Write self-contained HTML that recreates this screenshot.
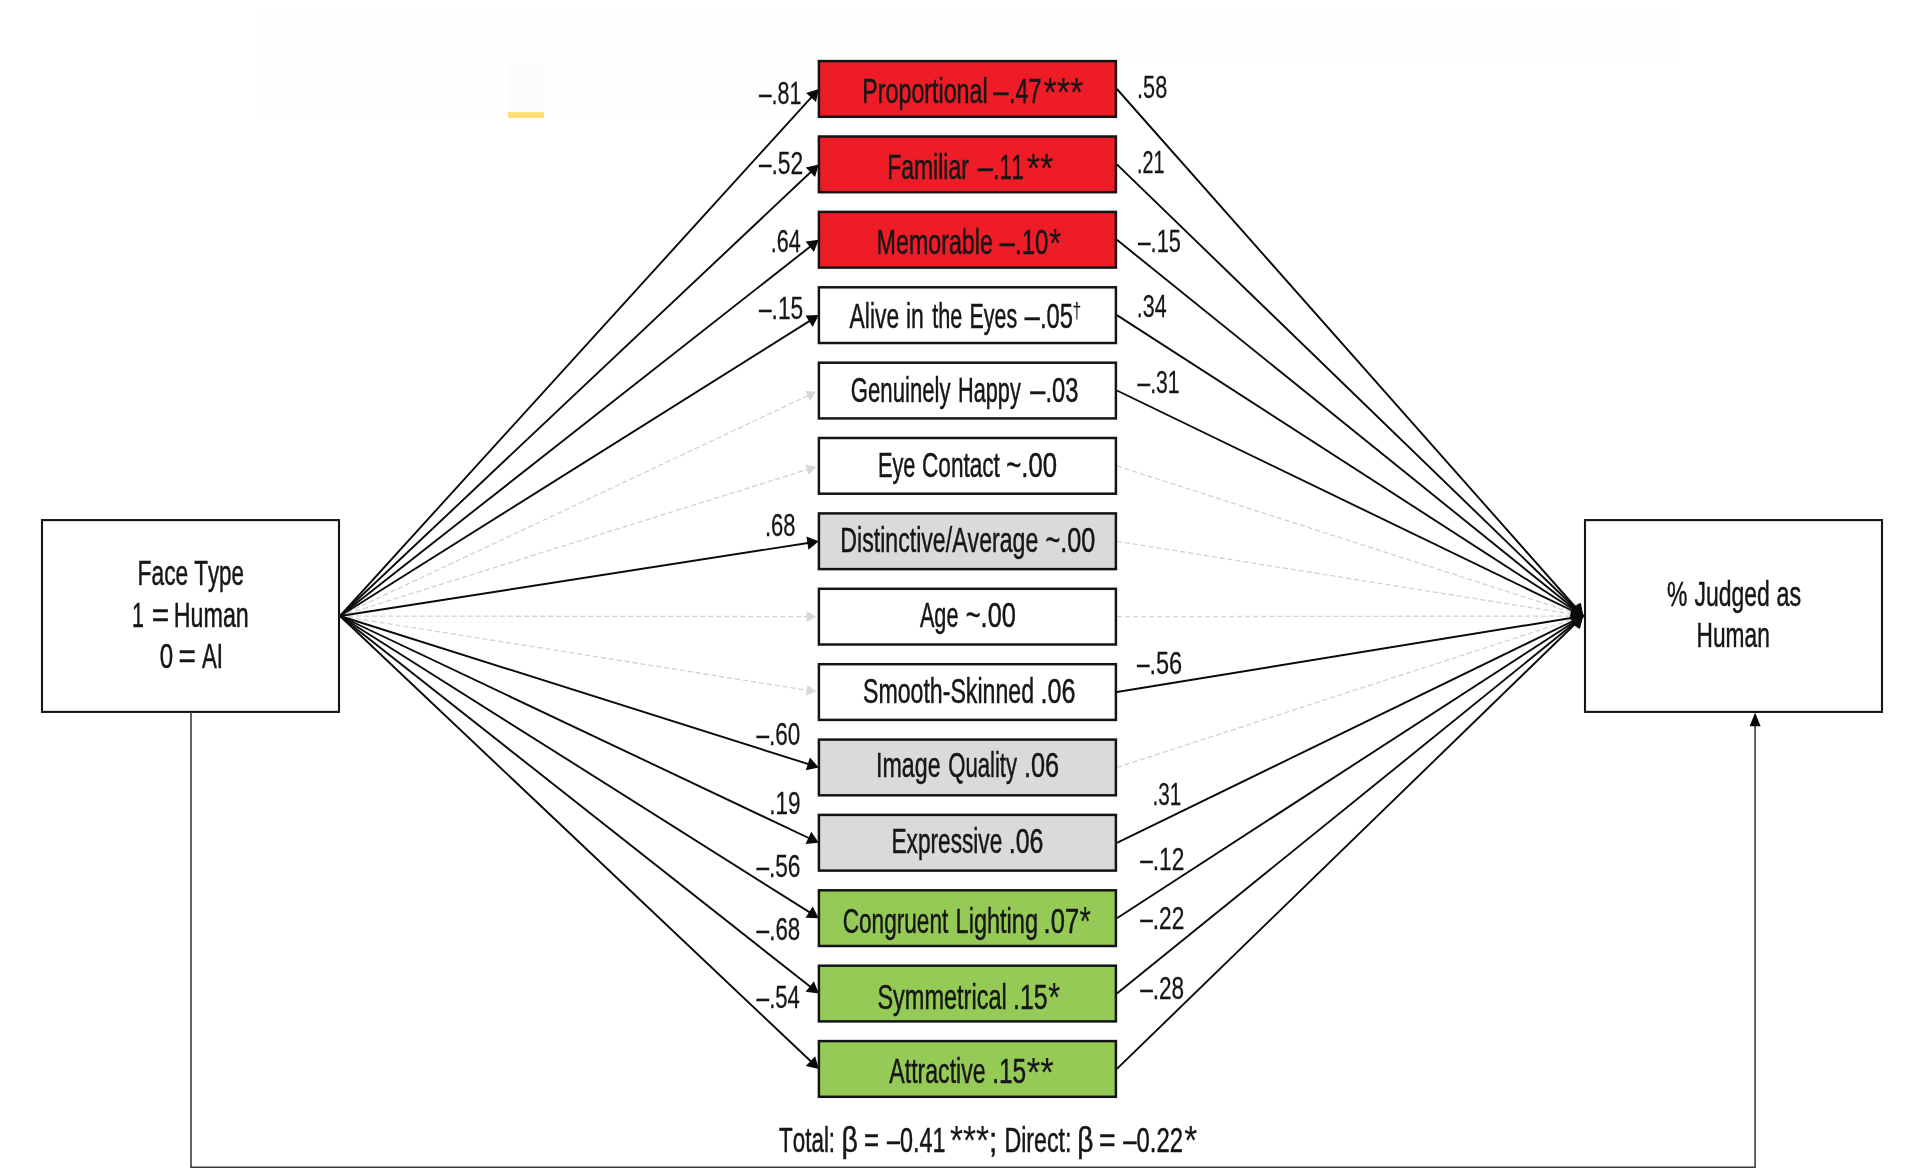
<!DOCTYPE html>
<html lang="en"><head><meta charset="utf-8"><title>Mediation model</title>
<style>
html,body{margin:0;padding:0;background:#fff;}
body{width:1918px;height:1169px;overflow:hidden;}
svg{display:block;}
text{font-family:"Liberation Sans",Arial,Helvetica,sans-serif;font-size:34.6px;fill:#161616;font-kerning:none;stroke:#161616;stroke-width:0.5px;}
text.c{font-size:32px;stroke-width:0.3px;}
.sol{stroke:#0a0a0a;stroke-width:1.9;fill:none;}
.dash{stroke:#d2d2d2;stroke-width:1.3;stroke-dasharray:5.2 2.8;fill:none;}
.box{stroke:#141414;stroke-width:2.5;}
.thin{stroke:#3c3c3c;stroke-width:1.6;fill:none;}
</style></head><body>
<svg width="1918" height="1169" viewBox="0 0 1918 1169">
<rect x="0" y="0" width="1918" height="1169" fill="#ffffff"/>
<rect x="260" y="8" width="1417" height="54" fill="#fefefe"/>
<rect x="260" y="62" width="700" height="56" fill="#fefefe"/>
<rect x="508" y="63" width="36" height="50" fill="#fcfcfc"/>
<rect x="508" y="112" width="36" height="6" fill="#ffde7b"/>

<line class="dash" x1="340" y1="616" x2="808.9" y2="395.2"/>
<polygon points="816.2,391.8 809.9,400.9 805.2,390.9" fill="#d8d8d8"/>
<line class="dash" x1="340" y1="616" x2="808.9" y2="469.0"/>
<polygon points="816.2,466.7 808.7,474.9 805.4,464.4" fill="#d8d8d8"/>
<line class="dash" x1="1116.9" y1="465.9" x2="1583.3" y2="616"/>
<line class="dash" x1="1116.9" y1="541.3" x2="1583.3" y2="616"/>
<line class="dash" x1="340" y1="616" x2="808.9" y2="616.6"/>
<polygon points="816.2,616.7 806.6,622.1 806.6,611.1" fill="#d8d8d8"/>
<line class="dash" x1="1116.9" y1="616.7" x2="1583.3" y2="616"/>
<line class="dash" x1="340" y1="616" x2="808.9" y2="690.5"/>
<polygon points="816.2,691.6 805.9,695.5 807.6,684.7" fill="#d8d8d8"/>
<line class="dash" x1="1116.9" y1="767.4" x2="1583.3" y2="616"/>
<line class="sol" x1="340" y1="616" x2="812.9" y2="95.6"/>
<polygon points="818.8,89.0 816.0,102.0 806.1,93.0" fill="#0a0a0a"/>
<line class="sol" x1="1116.9" y1="89.0" x2="1583.3" y2="616"/>
<line class="sol" x1="340" y1="616" x2="812.9" y2="170.0"/>
<polygon points="818.8,164.4 815.0,177.1 805.8,167.4" fill="#0a0a0a"/>
<line class="sol" x1="1116.9" y1="164.4" x2="1583.3" y2="616"/>
<line class="sol" x1="340" y1="616" x2="812.9" y2="244.5"/>
<polygon points="818.8,239.8 813.9,252.1 805.6,241.6" fill="#0a0a0a"/>
<line class="sol" x1="1116.9" y1="239.8" x2="1583.3" y2="616"/>
<line class="sol" x1="340" y1="616" x2="812.9" y2="318.9"/>
<polygon points="818.8,315.1 812.6,326.9 805.5,315.6" fill="#0a0a0a"/>
<line class="sol" x1="1116.9" y1="315.1" x2="1583.3" y2="616"/>
<line class="sol" x1="1116.9" y1="390.5" x2="1583.3" y2="616"/>
<line class="sol" x1="340" y1="616" x2="812.9" y2="542.2"/>
<polygon points="818.8,541.3 808.5,549.7 806.4,536.4" fill="#0a0a0a"/>
<line class="sol" x1="1116.9" y1="692.0" x2="1583.3" y2="616"/>
<line class="sol" x1="340" y1="616" x2="812.9" y2="765.5"/>
<polygon points="818.8,767.4 805.8,770.3 809.9,757.6" fill="#0a0a0a"/>
<line class="sol" x1="340" y1="616" x2="812.9" y2="840.0"/>
<polygon points="818.8,842.8 805.5,843.9 811.3,831.8" fill="#0a0a0a"/>
<line class="sol" x1="1116.9" y1="842.8" x2="1583.3" y2="616"/>
<line class="sol" x1="340" y1="616" x2="812.9" y2="914.4"/>
<polygon points="818.8,918.2 805.5,917.7 812.7,906.4" fill="#0a0a0a"/>
<line class="sol" x1="1116.9" y1="918.2" x2="1583.3" y2="616"/>
<line class="sol" x1="340" y1="616" x2="812.9" y2="988.8"/>
<polygon points="818.8,993.6 805.6,991.7 813.9,981.2" fill="#0a0a0a"/>
<line class="sol" x1="1116.9" y1="993.6" x2="1583.3" y2="616"/>
<line class="sol" x1="340" y1="616" x2="812.9" y2="1063.3"/>
<polygon points="818.8,1068.9 805.8,1065.9 815.1,1056.2" fill="#0a0a0a"/>
<line class="sol" x1="1116.9" y1="1068.9" x2="1583.3" y2="616"/>
<polygon points="1583.3,616.0 1570.4,612.0 1580.9,602.8" fill="#0a0a0a"/>
<polygon points="1583.3,616.0 1570.2,613.0 1579.9,603.0" fill="#0a0a0a"/>
<polygon points="1583.3,616.0 1570.0,614.2 1578.7,603.3" fill="#0a0a0a"/>
<polygon points="1583.3,616.0 1569.8,615.7 1577.4,603.9" fill="#0a0a0a"/>
<polygon points="1583.3,616.0 1569.9,617.3 1576.0,604.7" fill="#0a0a0a"/>
<polygon points="1583.3,616.0 1573.1,624.8 1570.8,610.9" fill="#0a0a0a"/>
<polygon points="1583.3,616.0 1576.0,627.3 1569.9,614.7" fill="#0a0a0a"/>
<polygon points="1583.3,616.0 1577.4,628.1 1569.8,616.4" fill="#0a0a0a"/>
<polygon points="1583.3,616.0 1578.8,628.7 1570.0,617.8" fill="#0a0a0a"/>
<polygon points="1583.3,616.0 1579.9,629.0 1570.2,619.0" fill="#0a0a0a"/>
<rect class="box" x="818.9" y="61.1" width="297.0" height="55.7" fill="#ed1c26"/>
<rect class="box" x="818.9" y="136.5" width="297.0" height="55.7" fill="#ed1c26"/>
<rect class="box" x="818.9" y="211.9" width="297.0" height="55.7" fill="#ed1c26"/>
<rect class="box" x="818.9" y="287.3" width="297.0" height="55.7" fill="#ffffff"/>
<rect class="box" x="818.9" y="362.7" width="297.0" height="55.7" fill="#ffffff"/>
<rect class="box" x="818.9" y="438.0" width="297.0" height="55.7" fill="#ffffff"/>
<rect class="box" x="818.9" y="513.4" width="297.0" height="55.7" fill="#dad9db"/>
<rect class="box" x="818.9" y="588.8" width="297.0" height="55.7" fill="#ffffff"/>
<rect class="box" x="818.9" y="664.2" width="297.0" height="55.7" fill="#ffffff"/>
<rect class="box" x="818.9" y="739.6" width="297.0" height="55.7" fill="#dad9db"/>
<rect class="box" x="818.9" y="814.9" width="297.0" height="55.7" fill="#dad9db"/>
<rect class="box" x="818.9" y="890.3" width="297.0" height="55.7" fill="#96ca57"/>
<rect class="box" x="818.9" y="965.7" width="297.0" height="55.7" fill="#96ca57"/>
<rect class="box" x="818.9" y="1041.1" width="297.0" height="55.7" fill="#96ca57"/>
<rect class="box" x="42" y="520.1" width="297" height="191.8" fill="#fff" style="stroke-width:2.1"/>
<rect class="box" x="1585" y="520.1" width="297" height="191.8" fill="#fff" style="stroke-width:2.1"/>
<path class="thin" d="M191,712 V1167.2 H1755.1 V724"/>
<polygon points="1755.1,712.6 1749.6,726.3 1760.6,726.3" fill="#0a0a0a"/>
<g style="filter:grayscale(1)">
<text y="103.3"><tspan x="862.3" textLength="125.3" lengthAdjust="spacingAndGlyphs">Proportional</tspan> <tspan x="993.5" textLength="15.0" lengthAdjust="spacingAndGlyphs">–</tspan><tspan x="1008.9" textLength="32.5" lengthAdjust="spacingAndGlyphs">.47</tspan><tspan x="1043.6" y="106.1" textLength="39.6" lengthAdjust="spacingAndGlyphs" style="font-size:40.2px;stroke-width:0.1px">***</tspan></text>
<text y="179.2"><tspan x="887.2" textLength="81.6" lengthAdjust="spacingAndGlyphs">Familiar</tspan> <tspan x="977.8" textLength="15.0" lengthAdjust="spacingAndGlyphs">–</tspan><tspan x="993.3" textLength="30.5" lengthAdjust="spacingAndGlyphs">.11</tspan><tspan x="1026.8" y="181.7" textLength="26.6" lengthAdjust="spacingAndGlyphs" style="font-size:40.2px;stroke-width:0.1px">**</tspan></text>
<text y="254.0"><tspan x="876.6" textLength="116.3" lengthAdjust="spacingAndGlyphs">Memorable</tspan> <tspan x="999.7" textLength="15.0" lengthAdjust="spacingAndGlyphs">–</tspan><tspan x="1015.0" textLength="33.3" lengthAdjust="spacingAndGlyphs">.10</tspan><tspan x="1049.3" y="256.5" textLength="11.9" lengthAdjust="spacingAndGlyphs" style="font-size:40.2px;stroke-width:0.1px">*</tspan></text>
<text y="327.8"><tspan x="849.6" textLength="49.5" lengthAdjust="spacingAndGlyphs">Alive</tspan> <tspan x="905.9" textLength="17.9" lengthAdjust="spacingAndGlyphs">in</tspan> <tspan x="932.2" textLength="30.2" lengthAdjust="spacingAndGlyphs">the</tspan> <tspan x="969.5" textLength="47.7" lengthAdjust="spacingAndGlyphs">Eyes</tspan> <tspan x="1024.7" textLength="15.0" lengthAdjust="spacingAndGlyphs">–</tspan><tspan x="1040.0" textLength="33.1" lengthAdjust="spacingAndGlyphs">.05</tspan><tspan x="1072.6" y="317.6" textLength="8.7" lengthAdjust="spacingAndGlyphs" style="font-size:21.7px;stroke-width:0.1px">†</tspan></text>
<text y="402.1"><tspan x="850.8" textLength="99.7" lengthAdjust="spacingAndGlyphs">Genuinely</tspan> <tspan x="958.0" textLength="62.8" lengthAdjust="spacingAndGlyphs">Happy</tspan> <tspan x="1030.2" textLength="15.0" lengthAdjust="spacingAndGlyphs">–</tspan><tspan x="1045.5" textLength="33.0" lengthAdjust="spacingAndGlyphs">.03</tspan></text>
<text y="476.5"><tspan x="877.9" textLength="37.6" lengthAdjust="spacingAndGlyphs">Eye</tspan> <tspan x="922.0" textLength="77.9" lengthAdjust="spacingAndGlyphs">Contact</tspan> <tspan x="1006.3" textLength="50.7" lengthAdjust="spacingAndGlyphs">~.00</tspan></text>
<text y="551.6"><tspan x="840.3" textLength="198.0" lengthAdjust="spacingAndGlyphs">Distinctive/Average</tspan> <tspan x="1045.5" textLength="49.8" lengthAdjust="spacingAndGlyphs">~.00</tspan></text>
<text y="627.0"><tspan x="919.9" textLength="38.6" lengthAdjust="spacingAndGlyphs">Age</tspan> <tspan x="965.8" textLength="50.1" lengthAdjust="spacingAndGlyphs">~.00</tspan></text>
<text y="703.0"><tspan x="863.0" textLength="171.0" lengthAdjust="spacingAndGlyphs">Smooth-Skinned</tspan> <tspan x="1040.4" textLength="35.0" lengthAdjust="spacingAndGlyphs">.06</tspan></text>
<text y="777.3"><tspan x="876.1" textLength="64.5" lengthAdjust="spacingAndGlyphs">Image</tspan> <tspan x="948.2" textLength="68.8" lengthAdjust="spacingAndGlyphs">Quality</tspan> <tspan x="1024.0" textLength="35.2" lengthAdjust="spacingAndGlyphs">.06</tspan></text>
<text y="853.2"><tspan x="891.5" textLength="110.8" lengthAdjust="spacingAndGlyphs">Expressive</tspan> <tspan x="1008.8" textLength="34.7" lengthAdjust="spacingAndGlyphs">.06</tspan></text>
<text y="932.6"><tspan x="842.7" textLength="105.6" lengthAdjust="spacingAndGlyphs">Congruent</tspan> <tspan x="955.6" textLength="82.4" lengthAdjust="spacingAndGlyphs">Lighting</tspan> <tspan x="1043.6" textLength="35.6" lengthAdjust="spacingAndGlyphs">.07</tspan><tspan x="1079.5" y="935.1" textLength="11.3" lengthAdjust="spacingAndGlyphs" style="font-size:40.2px;stroke-width:0.1px">*</tspan></text>
<text y="1008.7"><tspan x="877.4" textLength="129.3" lengthAdjust="spacingAndGlyphs">Symmetrical</tspan> <tspan x="1013.1" textLength="34.5" lengthAdjust="spacingAndGlyphs">.15</tspan><tspan x="1048.2" y="1011.2" textLength="11.9" lengthAdjust="spacingAndGlyphs" style="font-size:40.2px;stroke-width:0.1px">*</tspan></text>
<text y="1083.2"><tspan x="889.3" textLength="96.3" lengthAdjust="spacingAndGlyphs">Attractive</tspan> <tspan x="992.2" textLength="34.0" lengthAdjust="spacingAndGlyphs">.15</tspan><tspan x="1026.8" y="1085.7" textLength="27.0" lengthAdjust="spacingAndGlyphs" style="font-size:40.2px;stroke-width:0.1px">**</tspan></text>
<text class="c" y="103.6"><tspan x="759.0" textLength="12.6" lengthAdjust="spacingAndGlyphs">–</tspan><tspan x="771.6" textLength="29.8" lengthAdjust="spacingAndGlyphs">.81</tspan></text>
<text class="c" y="173.9"><tspan x="759.0" textLength="12.6" lengthAdjust="spacingAndGlyphs">–</tspan><tspan x="771.5" textLength="31.7" lengthAdjust="spacingAndGlyphs">.52</tspan></text>
<text class="c" y="251.9"><tspan x="770.8" textLength="30.0" lengthAdjust="spacingAndGlyphs">.64</tspan></text>
<text class="c" y="319.2"><tspan x="759.1" textLength="12.6" lengthAdjust="spacingAndGlyphs">–</tspan><tspan x="771.6" textLength="31.6" lengthAdjust="spacingAndGlyphs">.15</tspan></text>
<text class="c" y="535.9"><tspan x="764.9" textLength="30.5" lengthAdjust="spacingAndGlyphs">.68</tspan></text>
<text class="c" y="744.8"><tspan x="756.6" textLength="12.6" lengthAdjust="spacingAndGlyphs">–</tspan><tspan x="769.1" textLength="31.2" lengthAdjust="spacingAndGlyphs">.60</tspan></text>
<text class="c" y="814.4"><tspan x="769.2" textLength="31.3" lengthAdjust="spacingAndGlyphs">.19</tspan></text>
<text class="c" y="877.0"><tspan x="756.4" textLength="12.6" lengthAdjust="spacingAndGlyphs">–</tspan><tspan x="768.9" textLength="31.6" lengthAdjust="spacingAndGlyphs">.56</tspan></text>
<text class="c" y="940.3"><tspan x="756.6" textLength="12.6" lengthAdjust="spacingAndGlyphs">–</tspan><tspan x="769.2" textLength="31.0" lengthAdjust="spacingAndGlyphs">.68</tspan></text>
<text class="c" y="1007.8"><tspan x="756.6" textLength="12.6" lengthAdjust="spacingAndGlyphs">–</tspan><tspan x="769.2" textLength="30.7" lengthAdjust="spacingAndGlyphs">.54</tspan></text>
<text class="c" y="97.5"><tspan x="1137.1" textLength="30.1" lengthAdjust="spacingAndGlyphs">.58</tspan></text>
<text class="c" y="172.8"><tspan x="1137.0" textLength="27.4" lengthAdjust="spacingAndGlyphs">.21</tspan></text>
<text class="c" y="251.9"><tspan x="1138.0" textLength="12.6" lengthAdjust="spacingAndGlyphs">–</tspan><tspan x="1150.6" textLength="30.3" lengthAdjust="spacingAndGlyphs">.15</tspan></text>
<text class="c" y="317.2"><tspan x="1136.8" textLength="29.8" lengthAdjust="spacingAndGlyphs">.34</tspan></text>
<text class="c" y="393.4"><tspan x="1137.5" textLength="12.6" lengthAdjust="spacingAndGlyphs">–</tspan><tspan x="1150.2" textLength="29.4" lengthAdjust="spacingAndGlyphs">.31</tspan></text>
<text class="c" y="674.1"><tspan x="1136.9" textLength="12.6" lengthAdjust="spacingAndGlyphs">–</tspan><tspan x="1149.4" textLength="32.7" lengthAdjust="spacingAndGlyphs">.56</tspan></text>
<text class="c" y="805.3"><tspan x="1152.6" textLength="28.8" lengthAdjust="spacingAndGlyphs">.31</tspan></text>
<text class="c" y="869.8"><tspan x="1140.2" textLength="12.6" lengthAdjust="spacingAndGlyphs">–</tspan><tspan x="1152.7" textLength="31.6" lengthAdjust="spacingAndGlyphs">.12</tspan></text>
<text class="c" y="929.4"><tspan x="1140.2" textLength="12.6" lengthAdjust="spacingAndGlyphs">–</tspan><tspan x="1152.7" textLength="31.6" lengthAdjust="spacingAndGlyphs">.22</tspan></text>
<text class="c" y="999.3"><tspan x="1140.2" textLength="12.6" lengthAdjust="spacingAndGlyphs">–</tspan><tspan x="1152.7" textLength="31.4" lengthAdjust="spacingAndGlyphs">.28</tspan></text>
<text y="585.2"><tspan x="137.6" textLength="50.6" lengthAdjust="spacingAndGlyphs">Face</tspan> <tspan x="194.2" textLength="49.9" lengthAdjust="spacingAndGlyphs">Type</tspan></text>
<text y="626.6"><tspan x="132.1" textLength="11.9" lengthAdjust="spacingAndGlyphs">1</tspan> <tspan x="151.8" textLength="17.4" lengthAdjust="spacingAndGlyphs">=</tspan> <tspan x="173.8" textLength="75.0" lengthAdjust="spacingAndGlyphs">Human</tspan></text>
<text y="667.6"><tspan x="159.7" textLength="13.4" lengthAdjust="spacingAndGlyphs">0</tspan> <tspan x="178.5" textLength="17.4" lengthAdjust="spacingAndGlyphs">=</tspan> <tspan x="202.0" textLength="21.0" lengthAdjust="spacingAndGlyphs">AI</tspan></text>
<text y="605.8"><tspan x="1667.0" textLength="20.4" lengthAdjust="spacingAndGlyphs">%</tspan> <tspan x="1694.6" textLength="75.2" lengthAdjust="spacingAndGlyphs">Judged</tspan> <tspan x="1776.5" textLength="24.7" lengthAdjust="spacingAndGlyphs">as</tspan></text>
<text y="647.0"><tspan x="1696.6" textLength="73.2" lengthAdjust="spacingAndGlyphs">Human</tspan></text>
<text y="1151.6"><tspan x="779.1" textLength="56.0" lengthAdjust="spacingAndGlyphs">Total:</tspan> <tspan x="841.4" textLength="16.4" lengthAdjust="spacingAndGlyphs">β</tspan> <tspan x="863.9" textLength="15.1" lengthAdjust="spacingAndGlyphs">=</tspan> <tspan x="887.0" textLength="58.5" lengthAdjust="spacingAndGlyphs">–0.41</tspan><tspan x="949.9" y="1153.7" textLength="39.2" lengthAdjust="spacingAndGlyphs" style="font-size:40.7px;stroke-width:0.1px">***</tspan><tspan x="989.0" y="1151.6" textLength="8.3" lengthAdjust="spacingAndGlyphs">;</tspan> <tspan x="1004.4" textLength="67.1" lengthAdjust="spacingAndGlyphs">Direct:</tspan> <tspan x="1077.3" textLength="16.2" lengthAdjust="spacingAndGlyphs">β</tspan> <tspan x="1098.9" textLength="16.6" lengthAdjust="spacingAndGlyphs">=</tspan> <tspan x="1123.3" textLength="59.7" lengthAdjust="spacingAndGlyphs">–0.22</tspan><tspan x="1184.3" y="1153.7" textLength="13.0" lengthAdjust="spacingAndGlyphs" style="font-size:40.7px;stroke-width:0.1px">*</tspan></text>
</g>
</svg></body></html>
